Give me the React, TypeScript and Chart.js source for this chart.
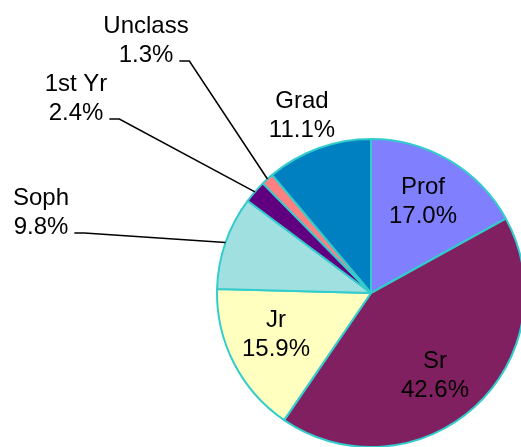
import React, { useEffect, useRef } from "react";
import { Chart, registerables } from "chart.js";

Chart.register(...registerables);

const categories = ["Prof", "Sr", "Jr", "Soph", "1st Yr", "Unclass", "Grad"];
const shares = [17.0, 42.6, 15.9, 9.8, 2.4, 1.3, 11.1];
const percentLabels = ["17.0%", "42.6%", "15.9%", "9.8%", "2.4%", "1.3%", "11.1%"];
const sliceColors = ["#8080FF", "#802060", "#FFFFC0", "#A0E0E0", "#600080", "#FF8080", "#0080C0"];

// label layout: text centre x, first baseline y, leader line flag
const labelLayout = [
  { x: 423, y: 194, leader: false },
  { x: 435, y: 368, leader: false },
  { x: 276, y: 327, leader: false },
  { x: 41, y: 205, leader: true },
  { x: 76, y: 91, leader: true },
  { x: 146, y: 33, leader: true },
  { x: 302, y: 108, leader: false },
];

const LINE_H = 29;
const FONT = '24px "Liberation Sans", Arial, sans-serif';

const labelPlugin = {
  id: "sliceLabels",
  afterDatasetsDraw(chart: any) {
    const ctx = chart.ctx;
    const meta = chart.getDatasetMeta(0);
    ctx.save();
    ctx.font = FONT;
    ctx.fillStyle = "#000000";
    ctx.textAlign = "center";
    ctx.textBaseline = "alphabetic";
    meta.data.forEach((arc: any, i: number) => {
      const lay = labelLayout[i];
      const name = categories[i];
      const pct = percentLabels[i];
      ctx.fillText(name, lay.x, lay.y);
      ctx.fillText(pct, lay.x, lay.y + LINE_H);
      if (lay.leader) {
        const p = arc.getProps(["x", "y", "startAngle", "endAngle", "outerRadius"], true);
        const mid = (p.startAngle + p.endAngle) / 2;
        const ex = p.x + p.outerRadius * Math.cos(mid);
        const ey = p.y + p.outerRadius * Math.sin(mid);
        const w = ctx.measureText(pct).width;
        const sx = lay.x + w / 2 + 6;
        const sy = lay.y + LINE_H - 1;
        ctx.beginPath();
        ctx.strokeStyle = "#000000";
        ctx.lineWidth = 1.5;
        ctx.moveTo(sx, sy);
        ctx.lineTo(sx + 10, sy);
        ctx.lineTo(ex, ey);
        ctx.stroke();
      }
    });
    ctx.restore();
  },
};

export default function App() {
  const ref = useRef<HTMLCanvasElement | null>(null);
  useEffect(() => {
    if (!ref.current) return;
    const chart = new Chart(ref.current, {
      type: "pie",
      data: {
        labels: categories,
        datasets: [
          {
            data: shares,
            backgroundColor: sliceColors,
            borderColor: "#33CCCC",
            borderWidth: 2,
          },
        ],
      },
      options: {
        responsive: false,
        maintainAspectRatio: false,
        animation: false,
        layout: { padding: { left: 216, top: 138, right: 4, bottom: 2 } },
        plugins: { legend: { display: false }, tooltip: { enabled: false } },
      },
      plugins: [labelPlugin],
    });
    return () => chart.destroy();
  }, []);
  return (
    <div
      style={{
        position: "fixed",
        left: 0,
        top: 0,
        width: 521,
        height: 447,
        overflow: "hidden",
        background: "#ffffff",
      }}
    >
      <canvas ref={ref} width={530} height={450} style={{ display: "block" }} />
    </div>
  );
}
